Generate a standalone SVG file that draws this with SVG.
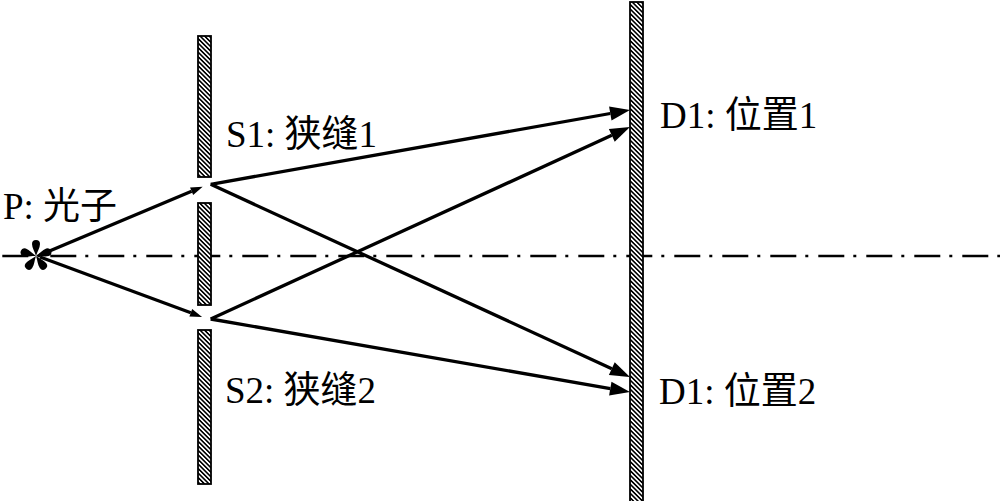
<svg xmlns="http://www.w3.org/2000/svg" width="1000" height="501" viewBox="0 0 1000 501">
<style>
.lbl{font-family:"Liberation Serif","Noto Sans CJK SC",serif;font-size:37px;fill:#000}
.wall{fill:url(#hatch);stroke:#000;stroke-width:1.8}
.ray{stroke:#000;stroke-width:3.3;fill:none}
.axis{stroke:#000;stroke-width:2.7;stroke-dasharray:26 9 3 10;fill:none}
</style>
<defs>
<pattern id="hatch" patternUnits="userSpaceOnUse" width="3.2" height="3.2" patternTransform="rotate(-45)">
<rect width="3.2" height="3.2" fill="#fff"/>
<rect width="1.6" height="3.2" fill="#000"/>
</pattern>
<marker id="big" viewBox="0 0 20 14" refX="0" refY="7" markerWidth="20" markerHeight="14" markerUnits="userSpaceOnUse" orient="auto" overflow="visible">
<path d="M0,0 L20,7 L0,14 z" fill="#000"/>
</marker>
<marker id="small" viewBox="0 0 12 8" refX="0" refY="4" markerWidth="12" markerHeight="8" markerUnits="userSpaceOnUse" orient="auto" overflow="visible">
<path d="M0,0 L12,4 L0,8 z" fill="#000"/>
</marker>
<path id="petal" d="M0,0 C-1,-4 -4,-8 -4,-12 A4,4 0 0 1 4,-12 C4,-8 1,-4 0,0 z" fill="#000"/>
</defs>
<rect width="1000" height="501" fill="#fff"/>

<g id="axis">
<line class="axis" x1="2.3" y1="256" x2="1000" y2="256"/>
</g>

<g id="slit-barrier">
<rect class="wall" x="198" y="36" width="13" height="141"/>
<rect class="wall" x="198" y="203" width="13" height="102"/>
<rect class="wall" x="198" y="330" width="13" height="154"/>
</g>

<g id="screen">
<rect class="wall" x="630" y="2" width="13" height="500"/>
</g>

<g id="connectors">
<line class="ray" x1="40" y1="255" x2="191.6" y2="191.3" marker-end="url(#small)"/>
<line class="ray" x1="40" y1="257" x2="190.8" y2="312.8" marker-end="url(#small)"/>
<line class="ray" x1="210.7" y1="184.3" x2="610.3" y2="113.5" marker-end="url(#big)"/>
<line class="ray" x1="210.7" y1="184.3" x2="611.8" y2="368.7" marker-end="url(#big)"/>
<line class="ray" x1="210.7" y1="319" x2="611.8" y2="135.3" marker-end="url(#big)"/>
<line class="ray" x1="210.7" y1="319" x2="610.3" y2="388.6" marker-end="url(#big)"/>
</g>

<g id="photon">
<g transform="translate(36,256)">
<use href="#petal"/>
<use href="#petal" transform="rotate(72)"/>
<use href="#petal" transform="rotate(144)"/>
<use href="#petal" transform="rotate(216)"/>
<use href="#petal" transform="rotate(288)"/>
</g>
<text class="lbl" x="3" y="219">P: 光子</text>
</g>

<g id="slit1"><text class="lbl" x="226" y="147">S1: 狭缝1</text></g>
<g id="slit2"><text class="lbl" x="225" y="403">S2: 狭缝2</text></g>
<g id="pos1"><text class="lbl" x="660" y="128">D1: 位置1</text></g>
<g id="pos2"><text class="lbl" x="659" y="404">D1: 位置2</text></g>
</svg>
